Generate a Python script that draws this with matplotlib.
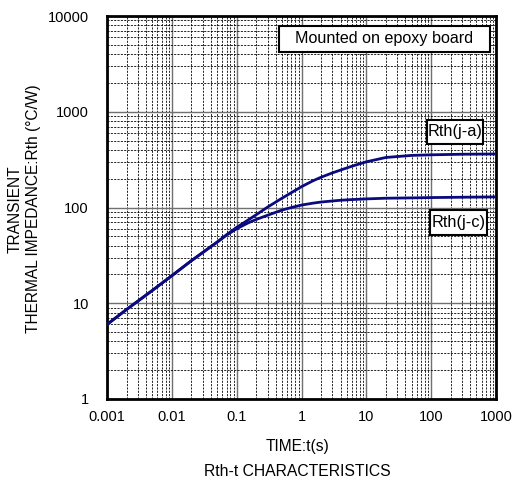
import numpy as np
import matplotlib.pyplot as plt
from matplotlib.patches import Rectangle
from matplotlib.ticker import LogLocator, NullFormatter, FixedLocator

plt.rcParams['font.family'] = ['Liberation Sans', 'DejaVu Sans']

# DATI ---------------------------------------------
t = [0.001, 0.002, 0.005, 0.01, 0.02, 0.05, 0.07, 0.1, 0.15, 0.2,
     0.3, 0.5, 0.7, 1, 1.5, 2, 3, 4, 6, 10, 20, 50, 100, 300, 1000]
rth_ja = [6.0, 8.6, 13.6, 19.4, 27.8, 43.5, 52, 62, 74, 84,
          101, 125, 143, 165, 190, 207, 230, 246, 270, 300, 333, 350, 355, 360, 362]
rth_jc = [6.0, 8.6, 13.6, 19.4, 27.8, 43.5, 51.5, 60, 69, 75,
          83, 94, 100, 106, 111, 114, 117, 119, 121, 123, 125, 126, 127, 128, 129]

xticks = [0.001, 0.01, 0.1, 1, 10, 100, 1000]
xtick_labels = ['0.001', '0.01', '0.1', '1', '10', '100', '1000']
yticks = [1, 10, 100, 1000, 10000]
ytick_labels = ['1', '10', '100', '1000', '10000']
blu = '#0a0a80'
#--------------------------------------------------

fig = plt.figure(figsize=(5.15, 4.79), dpi=100)
ax = fig.add_axes([107/515, 1-399/479, (496-107)/515, (399-16)/479])

ax.set_xscale('log')
ax.set_yscale('log')
ax.set_xlim(0.001, 1000)
ax.set_ylim(1, 10000)

ax.plot(t, rth_ja, color=blu, lw=2, zorder=5)
ax.plot(t, rth_jc, color=blu, lw=2, zorder=5)

ax.xaxis.set_major_locator(FixedLocator(xticks))
ax.set_xticklabels(xtick_labels)
ax.yaxis.set_major_locator(FixedLocator(yticks))
ax.set_yticklabels(ytick_labels)
ax.xaxis.set_minor_locator(LogLocator(base=10, subs=np.arange(2, 10), numticks=20))
ax.yaxis.set_minor_locator(LogLocator(base=10, subs=np.arange(2, 10), numticks=20))
ax.xaxis.set_minor_formatter(NullFormatter())
ax.yaxis.set_minor_formatter(NullFormatter())

ax.grid(which='major', color='#707070', lw=1.0, ls='-')
ax.grid(which='minor', color='black', lw=0.6, ls=(0, (2.5, 1.5)))
ax.set_axisbelow(True)
ax.tick_params(which='both', length=0, labelsize=10.5)
ax.tick_params(axis='x', pad=8)
ax.tick_params(axis='y', pad=13)
for s in ax.spines.values():
    s.set_linewidth(2)

# riquadri con etichette (coordinate assi)
def etichetta(x0, y0, x1, y1, testo, fs):
    ax.add_patch(Rectangle((x0, y0), x1-x0, y1-y0, transform=ax.transAxes,
                           fc='white', ec='black', lw=1.5, zorder=6))
    ax.text((x0+x1)/2, (y0+y1)/2, testo, transform=ax.transAxes,
            ha='center', va='center', fontsize=fs, zorder=7)

etichetta(0.442, 0.906, 0.985, 0.974, 'Mounted on epoxy board', 11.6)
etichetta(0.8226, 0.666, 0.9666, 0.7285, 'Rth(j-a)', 11.8)
etichetta(0.8303, 0.428, 0.9769, 0.4935, 'Rth(j-c)', 11.8)

fig.text(15/515, 1-209/479, 'TRANSIENT', rotation=90,
         ha='center', va='center', fontsize=11.2)
fig.text(34/515, 1-209/479, 'THERMAL IMPEDANCE:Rth (\u00b0C/W)', rotation=90,
         ha='center', va='center', fontsize=11.2)
fig.text(298/515, 1-447/479, 'TIME:t(s)', ha='center', va='center', fontsize=11.2)
fig.text(297/515, 1-471/479, 'Rth-t CHARACTERISTICS', ha='center', va='center', fontsize=11.3)

plt.savefig('out.png', dpi=100)
